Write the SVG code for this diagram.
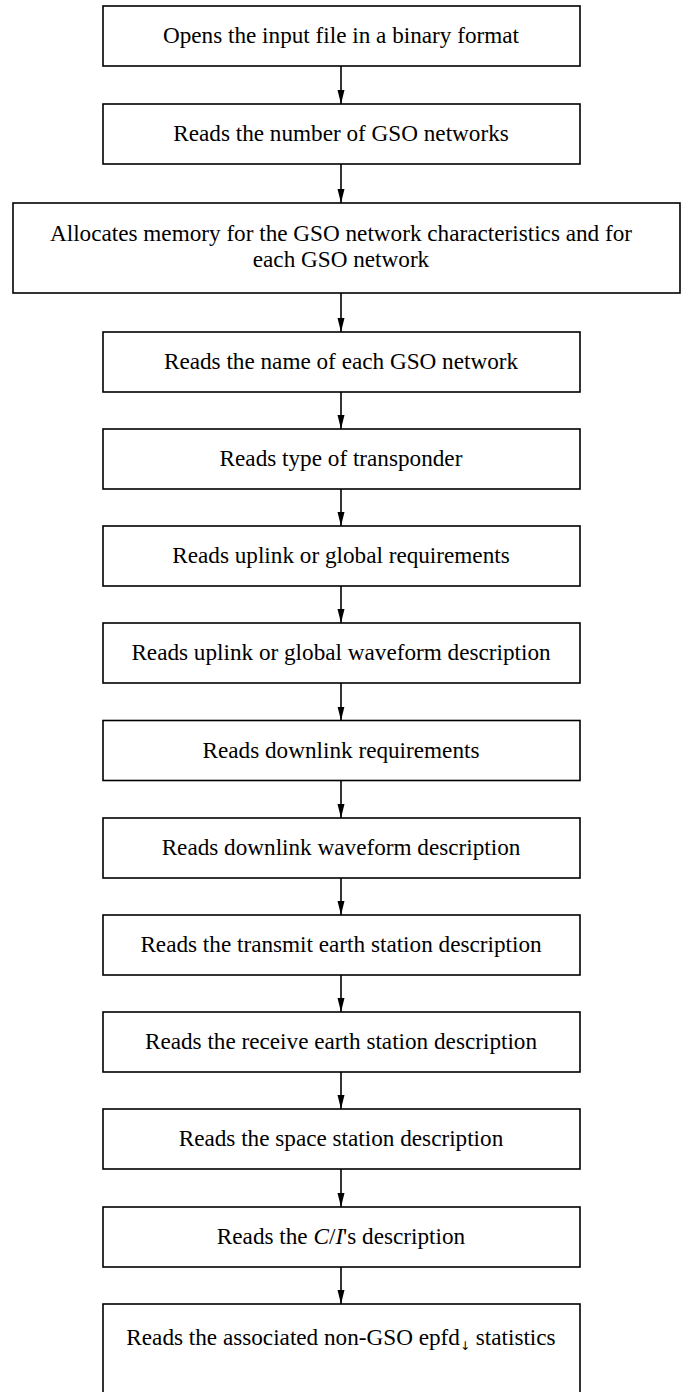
<svg xmlns="http://www.w3.org/2000/svg" width="682" height="1392" viewBox="0 0 682 1392">
  <defs>
    <style>
      .box { fill: #ffffff; stroke: #000000; stroke-width: 1.6; }
      .lbl { font-family: "Liberation Serif", "Times New Roman", serif; font-size: 23.2px; fill: #000000; text-anchor: middle; }
      .link { stroke: #000000; stroke-width: 1.6; fill: none; marker-end: url(#arrow); }
      .it { font-style: italic; }
      .sub { font-family: "DejaVu Sans", "Liberation Sans", sans-serif; font-size: 12px; fill: #000000; font-variant-emoji: text; }
    </style>
    <marker id="arrow" viewBox="0 0 14 8" refX="14" refY="4" markerWidth="14" markerHeight="8" markerUnits="userSpaceOnUse" orient="auto">
      <path d="M0,0.5 L14,4 L0,7.5 Z" fill="#000000"/>
    </marker>
  </defs>
  <rect width="682" height="1392" fill="#ffffff"/>

  <g id="connectors">
    <line class="link" x1="341" y1="66" x2="341" y2="104"/>
    <line class="link" x1="341" y1="164" x2="341" y2="203"/>
    <line class="link" x1="341" y1="293" x2="341" y2="332"/>
    <line class="link" x1="341" y1="392" x2="341" y2="429"/>
    <line class="link" x1="341" y1="489" x2="341" y2="526"/>
    <line class="link" x1="341" y1="586" x2="341" y2="623"/>
    <line class="link" x1="341" y1="683" x2="341" y2="720.5"/>
    <line class="link" x1="341" y1="780.5" x2="341" y2="818"/>
    <line class="link" x1="341" y1="878" x2="341" y2="915"/>
    <line class="link" x1="341" y1="975" x2="341" y2="1012"/>
    <line class="link" x1="341" y1="1072" x2="341" y2="1109"/>
    <line class="link" x1="341" y1="1169" x2="341" y2="1207"/>
    <line class="link" x1="341" y1="1267" x2="341" y2="1304"/>
  </g>

  <g id="open-input">
    <rect class="box" x="103" y="6" width="477" height="60"/>
    <text class="lbl" x="341" y="43">Opens the input file in a binary format</text>
  </g>
  <g id="read-count">
    <rect class="box" x="103" y="104" width="477" height="60"/>
    <text class="lbl" x="341" y="141">Reads the number of GSO networks</text>
  </g>
  <g id="allocate">
    <rect class="box" x="13" y="203" width="667" height="90"/>
    <text class="lbl" x="341" y="241">Allocates memory for the GSO network characteristics and for</text>
    <text class="lbl" x="341" y="267">each GSO network</text>
  </g>
  <g id="read-names">
    <rect class="box" x="103" y="332" width="477" height="60"/>
    <text class="lbl" x="341" y="369">Reads the name of each GSO network</text>
  </g>
  <g id="read-transponder">
    <rect class="box" x="103" y="429" width="477" height="60"/>
    <text class="lbl" x="341" y="466">Reads type of transponder</text>
  </g>
  <g id="read-uplink-req">
    <rect class="box" x="103" y="526" width="477" height="60"/>
    <text class="lbl" x="341" y="563">Reads uplink or global requirements</text>
  </g>
  <g id="read-uplink-wave">
    <rect class="box" x="103" y="623" width="477" height="60"/>
    <text class="lbl" x="341" y="660">Reads uplink or global waveform description</text>
  </g>
  <g id="read-downlink-req">
    <rect class="box" x="103" y="720.5" width="477" height="60"/>
    <text class="lbl" x="341" y="757.5">Reads downlink requirements</text>
  </g>
  <g id="read-downlink-wave">
    <rect class="box" x="103" y="818" width="477" height="60"/>
    <text class="lbl" x="341" y="855">Reads downlink waveform description</text>
  </g>
  <g id="read-tx-earth">
    <rect class="box" x="103" y="915" width="477" height="60"/>
    <text class="lbl" x="341" y="952">Reads the transmit earth station description</text>
  </g>
  <g id="read-rx-earth">
    <rect class="box" x="103" y="1012" width="477" height="60"/>
    <text class="lbl" x="341" y="1049">Reads the receive earth station description</text>
  </g>
  <g id="read-space">
    <rect class="box" x="103" y="1109" width="477" height="60"/>
    <text class="lbl" x="341" y="1146">Reads the space station description</text>
  </g>
  <g id="read-ci">
    <rect class="box" x="103" y="1207" width="477" height="60"/>
    <text class="lbl" x="341" y="1244">Reads the <tspan class="it">C</tspan>/<tspan class="it">I</tspan>'s description</text>
  </g>
  <g id="read-epfd">
    <rect class="box" x="103" y="1304" width="477" height="92"/>
    <text class="lbl" x="341" y="1345">Reads the associated non-GSO epfd<tspan class="sub" dy="5">↓&#xFE0E;</tspan><tspan dy="-5"> statistics</tspan></text>
  </g>
</svg>
